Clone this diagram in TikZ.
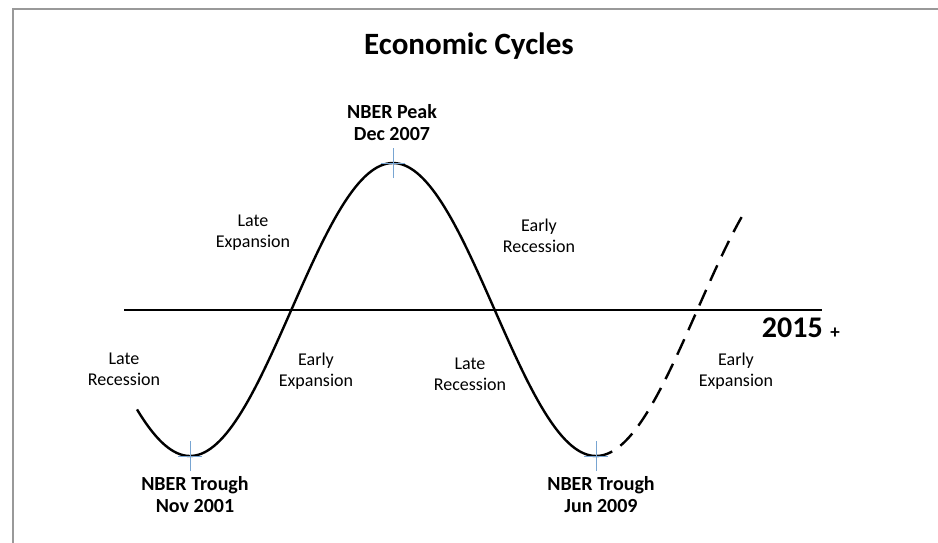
\documentclass[tikz,border=0pt]{standalone}
\usepackage{fontspec}
\setmainfont{Carlito}
\definecolor{crossblue}{RGB}{120,165,210}
\begin{document}
\begin{tikzpicture}[x=1pt,y=-1pt,
  lbl/.style={align=center,font=\fontsize{18}{21}\selectfont,inner sep=0pt},
  blbl/.style={align=center,font=\fontsize{20}{22}\bfseries\selectfont,inner sep=0pt},
  crossmark/.style={draw=crossblue,line width=1pt},
  curve/.style={line width=2.4pt,black},
  frame/.style={draw=gray!80,line width=1.2pt}]
\useasboundingbox (0,0) rectangle (938,543);
\fill[white] (0,0) rectangle (938,543);
\draw[frame] (13,543) -- (13,9) -- (938,9);
\node[font=\fontsize{31}{36}\bfseries\selectfont,inner sep=0pt] (title) at (469,46) {Economic Cycles};
% axis
\coordinate (axl) at (124,310);
\coordinate (axr) at (822,310);
\draw[line width=1.8pt] (axl) -- (axr);
% curve
\draw[curve] plot[domain=137:596,samples=150] (\x,{309.5+146.5*cos((\x-190)/406*360)});
\draw[curve,dash pattern=on 17pt off 10pt] plot[domain=596:745,samples=60] (\x,{309.5+146.5*cos((\x-190)/406*360)});
% crosses
\coordinate (t1) at (190,456);
\coordinate (pk) at (393,163);
\coordinate (t2) at (596,456);
\foreach \c in {t1,pk,t2}{
  \draw[crossmark] ([yshift=-15pt]\c) -- ([yshift=15pt]\c);
  \draw[crossmark] ([xshift=-12pt]\c) -- ([xshift=12pt]\c);
}
% labels
\node[blbl] (peak) at (392,123) {NBER Peak\\Dec 2007};
\node[blbl] (tr1) at (195,495) {NBER Trough\\Nov 2001};
\node[blbl] (tr2) at (601,495) {NBER Trough\\Jun 2009};
\node[lbl] (lexp) at (253,233) {Late\\Expansion};
\node[lbl] (erec) at (539,236) {Early\\Recession};
\node[lbl] (lrec1) at (124,369) {Late\\Recession};
\node[lbl] (eexp1) at (316,371) {Early\\Expansion};
\node[lbl] (lrec2) at (470,374) {Late\\Recession};
\node[lbl] (eexp2) at (736,371) {Early\\Expansion};
\node[font=\fontsize{30}{32}\bfseries\selectfont,inner sep=0pt,anchor=east] (yr) at (823,328) {2015};
\node[font=\fontsize{19}{20}\bfseries\selectfont,inner sep=0pt] (plus) at (835,333) {+};
\end{tikzpicture}
\end{document}
